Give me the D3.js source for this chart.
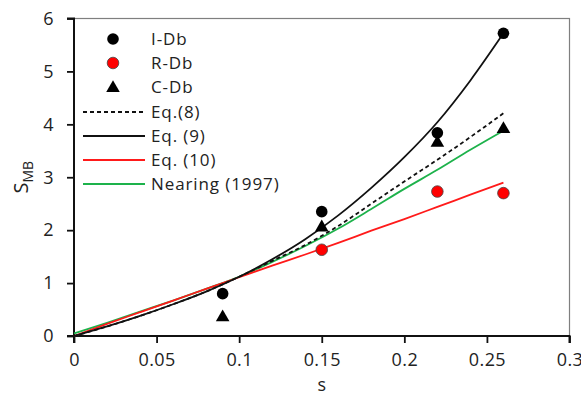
<!DOCTYPE html>
<html>
<head>
<meta charset="utf-8">
<script src="https://cdn.jsdelivr.net/npm/d3@7"></script>
<style>
  body { margin: 0; background: #fff; }
  svg text { font-family: "Open Sans", sans-serif; fill: #222; }
</style>
</head>
<body>
<div id="canvas"></div>
<script>
// observed points (s, S_MB)
var iDb = [[0.09, 0.80], [0.15, 2.35], [0.22, 3.84], [0.26, 5.72]];
var rDb = [[0.15, 1.63], [0.22, 2.73], [0.26, 2.70]];
var cDb = [[0.09, 0.37], [0.15, 2.07], [0.22, 3.67], [0.26, 3.93]];

// fitted curves
var sGrid = [0, 0.02, 0.04, 0.06, 0.08, 0.10, 0.12, 0.14, 0.16, 0.18, 0.20, 0.22, 0.24, 0.26];
var eq8 = [0, 0.18, 0.38, 0.60, 0.84, 1.12, 1.42, 1.72, 2.08, 2.50, 2.92, 3.33, 3.76, 4.21];
var eq9 = [0, 0.18, 0.38, 0.60, 0.84, 1.12, 1.45, 1.83, 2.28, 2.80, 3.38, 4.04, 4.83, 5.72];
var eq10 = [0, 0.23, 0.45, 0.67, 0.89, 1.11, 1.33, 1.54, 1.76, 1.99, 2.21, 2.44, 2.67, 2.90];
var nearing = [0.05, 0.25, 0.46, 0.67, 0.89, 1.12, 1.40, 1.70, 2.03, 2.40, 2.78, 3.14, 3.52, 3.88];

var xTicks = [0, 0.05, 0.1, 0.15, 0.2, 0.25, 0.3];
var yTicks = [0, 1, 2, 3, 4, 5, 6];

var W = 581, H = 397;
var m = {t: 18.5, r: 11.5, b: 61, l: 74};
var w = W - m.l - m.r, h = H - m.t - m.b;

var svg = d3.select('#canvas').append('svg')
    .attr('width', W)
    .attr('height', H);

var plot = svg.append('g')
    .attr('transform', 'translate(' + m.l + ',' + m.t + ')');

var scaleX = d3.scaleLinear().domain([0, 0.3]).range([0, w]);
var scaleY = d3.scaleLinear().domain([0, 6]).range([h, 0]);

// plot area border (top/right)
plot.append('rect')
    .attr('width', w).attr('height', h)
    .attr('fill', 'none')
    .attr('stroke', '#7f7f7f')
    .attr('stroke-width', 1.2);

var xAxis = d3.axisBottom(scaleX).tickValues(xTicks).tickSize(7).tickPadding(10)
    .tickFormat(function(d) { return String(+d.toFixed(2)); });
var yAxis = d3.axisLeft(scaleY).tickValues(yTicks).tickSize(7).tickPadding(13)
    .tickFormat(function(d) { return String(d); });

var gx = plot.append('g').attr('transform', 'translate(0,' + h + ')').call(xAxis);
var gy = plot.append('g').call(yAxis);

[gx, gy].forEach(function(g) {
  g.select('.domain').attr('stroke', '#111').attr('stroke-width', 2);
  g.selectAll('.tick line').attr('stroke', '#111').attr('stroke-width', 1.8);
  g.selectAll('.tick text')
    .attr('font-family', '"Open Sans", sans-serif')
    .attr('font-size', 18)
    .attr('letter-spacing', 0.4)
    .attr('fill', '#222');
});
gx.selectAll('.tick text').attr('dy', '0.71em');
gx.select('.domain').attr('d', 'M0,7V0H' + w + 'V7');
gy.select('.domain').attr('d', 'M-7,' + h + 'H0V0H-7');

// curves
var line = d3.line()
    .x(function(d) { return scaleX(d[0]); })
    .y(function(d) { return scaleY(d[1]); })
    .curve(d3.curveMonotoneX);

function series(vals) { return sGrid.map(function(s, i) { return [s, vals[i]]; }); }

var curves = [
  {vals: nearing, color: '#1db24b', dash: null},
  {vals: eq10, color: '#ff1a1a', dash: null},
  {vals: eq8, color: '#111', dash: '4,3'},
  {vals: eq9, color: '#111', dash: null}
];

curves.forEach(function(c) {
  plot.append('path')
    .attr('d', line(series(c.vals)))
    .attr('fill', 'none')
    .attr('stroke', c.color)
    .attr('stroke-width', 1.8)
    .attr('stroke-dasharray', c.dash);
});

// markers
var tri = d3.symbol().type(d3.symbolTriangle).size(80);

plot.selectAll('.cdb').data(cDb).enter()
  .append('path')
    .attr('class', 'cdb')
    .attr('d', tri)
    .attr('transform', function(d) { return 'translate(' + scaleX(d[0]) + ',' + (scaleY(d[1]) + 1) + ')'; })
    .attr('fill', '#000');

plot.selectAll('.idb').data(iDb).enter()
  .append('circle')
    .attr('class', 'idb')
    .attr('cx', function(d) { return scaleX(d[0]); })
    .attr('cy', function(d) { return scaleY(d[1]); })
    .attr('r', 5.8)
    .attr('fill', '#000');

plot.selectAll('.rdb').data(rDb).enter()
  .append('circle')
    .attr('class', 'rdb')
    .attr('cx', function(d) { return scaleX(d[0]); })
    .attr('cy', function(d) { return scaleY(d[1]); })
    .attr('r', 5.8)
    .attr('fill', '#ff0000')
    .attr('stroke', '#444')
    .attr('stroke-width', 0.8);

// legend
var legend = svg.append('g');
var rowsY = [39, 63, 87, 112, 136, 160, 184];
var labels = ['I-Db', 'R-Db', 'C-Db', 'Eq.(8)', 'Eq. (9)', 'Eq. (10)', 'Nearing (1997)'];

legend.append('circle').attr('cx', 113).attr('cy', rowsY[0]).attr('r', 5.8).attr('fill', '#000');
legend.append('circle').attr('cx', 113).attr('cy', rowsY[1]).attr('r', 5.8)
    .attr('fill', '#ff0000').attr('stroke', '#444').attr('stroke-width', 0.8);
legend.append('path').attr('d', tri).attr('transform', 'translate(113,' + (rowsY[2] + 1) + ')').attr('fill', '#000');

var legLines = [
  {color: '#111', dash: '4,3'},
  {color: '#111', dash: null},
  {color: '#ff1a1a', dash: null},
  {color: '#1db24b', dash: null}
];
legLines.forEach(function(c, i) {
  legend.append('line')
    .attr('x1', 83).attr('x2', 145)
    .attr('y1', rowsY[i + 3]).attr('y2', rowsY[i + 3])
    .attr('stroke', c.color)
    .attr('stroke-width', 1.8)
    .attr('stroke-dasharray', c.dash);
});

legend.selectAll('text').data(labels).enter()
  .append('text')
    .attr('x', 151)
    .attr('y', function(d, i) { return rowsY[i]; })
    .attr('dy', '0.36em')
    .attr('font-size', 17)
    .attr('letter-spacing', 0.9)
    .text(function(d) { return d; });

// axis titles
svg.append('text')
    .attr('x', m.l + scaleX(0.15))
    .attr('y', 391)
    .attr('text-anchor', 'middle')
    .attr('font-size', 18)
    .text('s');

var yl = svg.append('text')
    .attr('transform', 'translate(28,' + (m.t + h / 2) + ') rotate(-90)')
    .attr('text-anchor', 'middle')
    .attr('font-size', 20);
yl.append('tspan').text('S');
yl.append('tspan').attr('font-size', 14).attr('dy', 5).text('MB');
</script>
</body>
</html>
